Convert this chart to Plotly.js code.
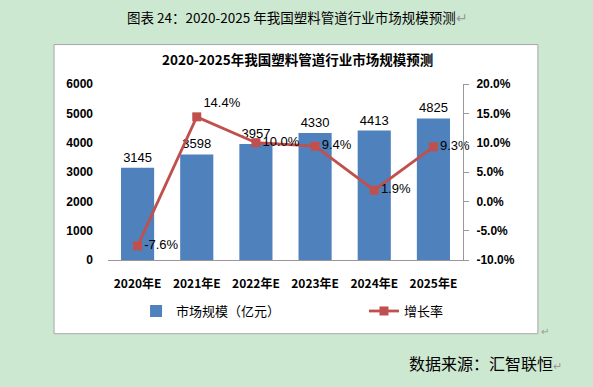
<!DOCTYPE html>
<html><head><meta charset="utf-8">
<script src="https://cdn.plot.ly/plotly-3.0.1.min.js"></script>
<style>html,body{margin:0;padding:0;background:#cde8d0;}</style>
</head><body>
<div id="chart" style="width:593px;height:387px;"></div>
<script>
const categories = ["2020年E","2021年E","2022年E","2023年E","2024年E","2025年E"];
const marketSize = [3145, 3598, 3957, 4330, 4413, 4825];
const growthRate = [-7.6, 14.4, 10.0, 9.4, 1.9, 9.3];
const leftTicks = [0, 1000, 2000, 3000, 4000, 5000, 6000];
const rightTicks = [-10, -5, 0, 5, 10, 15, 20];

const cjk = '"Noto Sans CJK SC", "Liberation Sans", Arial, sans-serif';
const lat = '"Liberation Sans", Arial, "Noto Sans CJK SC", sans-serif';

const bars = {
  type: 'bar', x: categories, y: marketSize, name: '市场规模（亿元）',
  marker: {color: '#4f81bd'}, legend: 'legend',
  text: marketSize.map(String), textposition: 'outside',
  textfont: {family: lat, size: 13, color: '#000'},
  cliponaxis: false, hoverinfo: 'skip'
};
const line = {
  type: 'scatter', mode: 'lines+markers+text', x: categories, y: growthRate, yaxis: 'y2',
  name: '增长率', legend: 'legend2',
  line: {color: '#c0504d', width: 2.8},
  marker: {symbol: 'square', size: 9, color: '#c0504d'},
  text: growthRate.map(v => v.toFixed(1) + '%'),
  textposition: growthRate.map((v, i) => i === 1 ? 'top right' : 'middle right'),
  textfont: {family: lat, size: 13, color: '#000'},
  cliponaxis: false, hoverinfo: 'skip'
};

const legendBase = {
  orientation: 'h', xanchor: 'left', y: -0.29, yanchor: 'middle',
  font: {family: cjk, size: 13, color: '#000'}, bgcolor: 'rgba(0,0,0,0)'
};

const layout = {
  width: 593, height: 387,
  margin: {l: 108, r: 130, t: 84, b: 127},
  paper_bgcolor: '#cde8d0', plot_bgcolor: 'rgba(0,0,0,0)',
  showlegend: true,
  bargap: 0.44,
  xaxis: {
    tickfont: {family: cjk, size: 12, color: '#000', weight: 'bold'},
    showline: true, linecolor: '#999', linewidth: 1, ticks: '', showgrid: false,
    ticklabelstandoff: 13
  },
  yaxis: {
    range: [0, 6000], tickvals: leftTicks, ticktext: leftTicks.map(String),
    tickfont: {family: lat, size: 12, color: '#000', weight: 'bold'},
    showgrid: false, zeroline: false, showline: false, ticks: '', ticklabelstandoff: 14
  },
  yaxis2: {
    overlaying: 'y', side: 'right', range: [-10, 20],
    tickvals: rightTicks, ticktext: rightTicks.map(v => v.toFixed(1) + '%'),
    tickfont: {family: lat, size: 12, color: '#000', weight: 'bold'},
    showgrid: false, zeroline: false, showline: true, linecolor: '#999', linewidth: 1,
    ticks: 'outside', ticklen: 5, tickcolor: '#999', ticklabelstandoff: 5
  },
  legend: Object.assign({}, legendBase, {x: 0.079}),
  legend2: Object.assign({}, legendBase, {x: 0.721}),
  shapes: [{
    type: 'rect', xref: 'paper', yref: 'paper', layer: 'below',
    x0: -0.152, x1: 1.211, y0: -0.419, y1: 1.224,
    fillcolor: '#ffffff', line: {color: '#a6a6a6', width: 1}
  }],
  annotations: [
    {xref: 'paper', yref: 'paper', x: 0.535, y: 1.14, text: '<b>2020-2025年我国塑料管道行业市场规模预测</b>',
     showarrow: false, font: {family: cjk, size: 13.5, color: '#000'}, xanchor: 'center', yanchor: 'middle'},
    {xref: 'paper', yref: 'paper', x: 0.535, y: 1.38, text: '图表 24：2020-2025 年我国塑料管道行业市场规模预测<span style="color:#999">↵</span>',
     showarrow: false, font: {family: cjk, size: 13.5, color: '#000'}, xanchor: 'center', yanchor: 'middle'},
    {xref: 'paper', yref: 'paper', x: 1.285, y: -0.585, text: '数据来源：汇智联恒<span style="color:#999;font-size:11px">↵</span>',
     showarrow: false, font: {family: cjk, size: 16, color: '#000'}, xanchor: 'right', yanchor: 'middle'},
    {xref: 'paper', yref: 'paper', x: 1.215, y: -0.4, text: '↵',
     showarrow: false, font: {family: cjk, size: 10, color: '#999'}, xanchor: 'left', yanchor: 'middle'}
  ]
};

Plotly.newPlot('chart', [bars, line], layout, {displayModeBar: false, staticPlot: true});
</script>
</body></html>
